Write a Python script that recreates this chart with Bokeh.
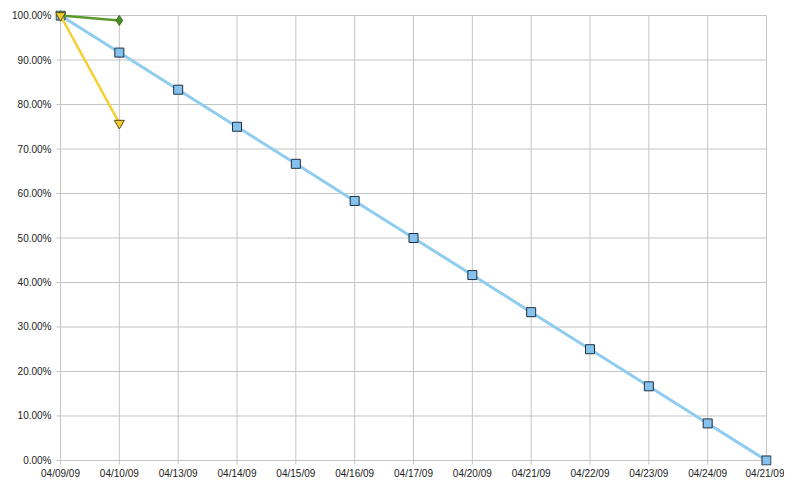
from bokeh.plotting import figure
from bokeh.models import NumeralTickFormatter, FixedTicker, Range1d
from bokeh.embed import file_html
from bokeh.resources import INLINE

dates = ["04/09/09", "04/10/09", "04/13/09", "04/14/09", "04/15/09", "04/16/09",
         "04/17/09", "04/20/09", "04/21/09", "04/22/09", "04/23/09", "04/24/09", "04/21/09"]
ideal = [1.0, 0.9167, 0.8333, 0.75, 0.6667, 0.5833, 0.5, 0.4167, 0.3333, 0.25, 0.1667, 0.0833, 0.0]
green_vals = [1.0, 0.989]
yellow_vals = [1.0, 0.758]
yticks = [0.0, 0.1, 0.2, 0.3, 0.4, 0.5, 0.6, 0.7, 0.8, 0.9, 1.0]

xi = list(range(len(dates)))
n = len(dates) - 1

# small padding so end markers are not clipped
xpad = 0.085
ypad = 0.0113

p = figure(width=784, height=481, output_backend="svg", toolbar_location=None,
           x_range=Range1d(-xpad, n + xpad), y_range=Range1d(-ypad, 1.0 + ypad),
           min_border_left=55, min_border_right=13, min_border_top=10, min_border_bottom=10)
p.outline_line_color = None
p.background_fill_color = "white"
p.border_fill_color = "white"
p.xgrid.visible = False
p.ygrid.visible = False

p.xaxis.ticker = FixedTicker(ticks=xi)
p.xaxis.major_label_overrides = {i: d for i, d in enumerate(dates)}
p.yaxis.ticker = FixedTicker(ticks=yticks)
p.yaxis.formatter = NumeralTickFormatter(format="0.00%")

for ax in (p.xaxis[0], p.yaxis[0]):
    ax.axis_line_color = None
    ax.major_tick_line_color = None
    ax.minor_tick_line_color = None
    ax.major_tick_out = 0
    ax.major_tick_in = 0
    ax.minor_tick_out = 0
    ax.minor_tick_in = 0
    ax.major_label_text_font = "Liberation Sans"
    ax.major_label_text_font_size = "10px"
    ax.major_label_text_color = "#222222"
p.xaxis.major_label_standoff = 2
p.yaxis.major_label_standoff = 4

grid_col = "#c4c4c4"
# gridlines (with short tick stubs outside the plotted area)
p.segment(x0=xi, y0=[-0.009] * len(xi), x1=xi, y1=[1.0] * len(xi), line_color=grid_col, line_width=1)
p.segment(x0=[-0.068] * len(yticks), y0=yticks, x1=[n] * len(yticks), y1=yticks, line_color=grid_col, line_width=1)

p.line(xi, ideal, line_color="#8fcdf0", line_width=3)
p.scatter(xi, ideal, marker="square", size=9, fill_color="#85c3ee", line_color="#1f2f3f", line_width=1)

p.line(xi[:2], green_vals, line_color="#5b9a2d", line_width=2.5)
p.scatter(xi[:2], green_vals, marker="diamond", size=10, fill_color="#4b8a2b", line_color="#3a6e20", line_width=1)

p.line(xi[:2], yellow_vals, line_color="#f4d034", line_width=2.5)
p.scatter(xi[:2], yellow_vals, marker="inverted_triangle", size=10, fill_color="#f2cc30", line_color="#5a4a10", line_width=1)

open("out.html", "w").write(file_html(p, INLINE))
